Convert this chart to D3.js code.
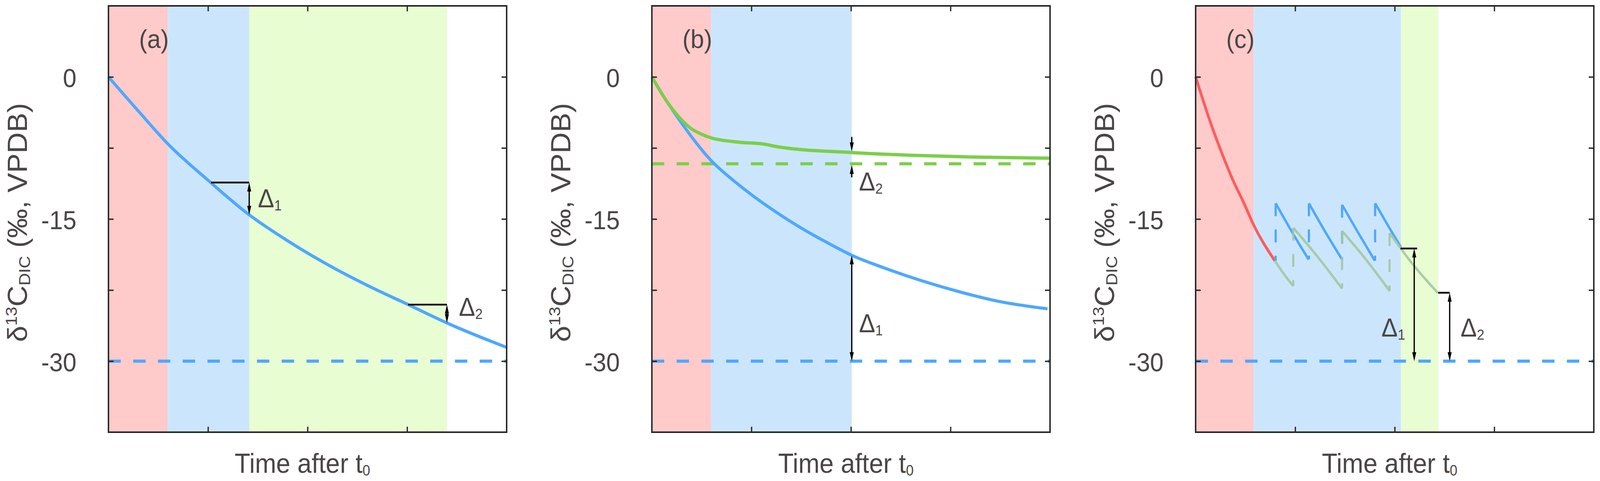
<!DOCTYPE html>
<html>
<head>
<meta charset="utf-8">
<script src="https://cdn.jsdelivr.net/npm/d3@7"></script>
<style>
  html, body { margin: 0; padding: 0; width: 100%; height: 100%; overflow: hidden; background: #fff; }
  #chart { width: 100%; height: 100%; }
  #chart svg { display: block; width: 100%; height: 100%; }
  text { font-family: "Liberation Sans", Arial, sans-serif; }
</style>
</head>
<body>
<div id="chart"></div>
<script>
// 坐标轴刻度
const xTickValues = [1, 2, 3];
const yTickValues = [-30, -22.5, -15, -7.5, 0];
const yTickLabels = [-30, -15, 0];
const panelLabels = ["(a)", "(b)", "(c)"];

// (a) 阶段边界与曲线
const aBandEdges = [0, 0.594, 1.414, 3.40];
const aCurve = [[0, 0], [0.3, -3.6], [0.6, -7.1], [1.0, -10.9], [1.414, -14.56], [1.8, -17.3],
    [2.2, -19.8], [2.6, -22.0], [3.01, -24.03], [3.40, -25.97], [4.0, -28.55]];
const aBaseline = -30;
// [水平线起点x, 箭头x, 上端y, 下端y]
const aSteps = [[1.03, 1.414, -11.15, -14.56], [3.01, 3.40, -24.03, -25.97]];

// (b)
const bBandEdges = [0, 0.594, 2.008];
const bBlue = [[0, 0], [0.155, -2.66], [0.31, -5.05], [0.594, -8.81], [0.826, -10.99], [1.032, -12.68],
    [1.29, -14.56], [1.548, -16.25], [1.806, -17.74], [2.008, -18.83], [2.323, -20.12], [2.71, -21.51],
    [3.097, -22.70], [3.484, -23.69], [3.974, -24.48]];
const bGreen = [[0, 0], [0.155, -2.66], [0.27, -4.2], [0.387, -5.4], [0.5, -6.05], [0.594, -6.43],
    [0.877, -6.89], [1.11, -7.07], [1.29, -7.42], [2.008, -7.98], [2.58, -8.26], [3.226, -8.46], [4.0, -8.58]];
const bBlueBaseline = -30;
const bGreenBaseline = -9.17;
const bArrowX = 2.008;
const bDelta2Tails = [-6.33, -10.6];

// (c)
const cBandEdges = [0, 0.581, 2.063, 2.437];
const cRed = [[0, 0], [0.172, -5.5], [0.241, -7.44], [0.379, -11.0], [0.486, -13.34], [0.578, -15.52], [0.796, -19.41]];
const cBlueTeeth = [
    [[0.804, -13.34], [0.97, -16.4], [1.135, -19.27]],
    [[1.138, -13.34], [1.305, -16.4], [1.471, -19.27]],
    [[1.471, -13.5], [1.636, -16.5], [1.80, -19.4]],
    [[1.803, -13.34], [1.933, -15.7], [2.063, -17.98]]
];
const cBlueJumps = [[0.804, -13.34, -19.41], [1.138, -13.34, -19.27], [1.471, -13.5, -19.27], [1.803, -13.34, -19.4]];
const cGreenTeeth = [
    [[0.796, -19.41], [0.89, -20.85], [0.981, -22.07]],
    [[0.981, -15.93], [1.227, -19.0], [1.471, -22.34]],
    [[1.471, -16.27], [1.713, -19.3], [1.95, -22.61]],
    [[1.948, -16.48], [2.191, -19.9], [2.435, -22.82]]
];
const cGreenJumps = [[0.981, -15.93, -22.07], [1.471, -16.27, -22.34], [1.948, -16.48, -22.61]];
const cBaseline = -30;
// [水平线起点x, 水平线终点x, 箭头x, 上端y]
const cSteps = [[2.058, 2.225, 2.196, -18.11], [2.437, 2.552, 2.552, -22.78]];

const Figure = {
    svg: null,
    width: 4396,
    height: 1232,
    panelLeft: [298, 1791, 3285],
    plotW: 1094,
    plotTop: 15,
    plotH: 1092,
    textColor: "#4a4646",
    axisColor: "#262626",
    bandColors: ["#ffcaca", "#cbe6fc", "#e8fdd2"],
    blue: "#4ea8ff",
    green: "#7bcf4a",
    red: "#ff5c5c",
    paleGreen: "#a3c8a0",

    init() {
        d3.select("#chart").selectAll("*").remove();
        // 用 viewBox 保证整幅图铺满窗口
        this.svg = d3.select("#chart").append("svg")
            .attr("viewBox", `0 0 ${this.width} ${this.height}`)
            .attr("preserveAspectRatio", "none");
        this.svg.append("rect").attr("width", this.width).attr("height", this.height).attr("fill", "#fff");

        this.drawPanelA(this.makePanel(0));
        this.drawPanelB(this.makePanel(1));
        this.drawPanelC(this.makePanel(2));
    },

    makePanel(i) {
        const left = this.panelLeft[i];
        const x = d3.scaleLinear().domain([0, 4]).range([left, left + this.plotW]);
        const y = d3.scaleLinear().domain([-37.5, 7.5]).range([this.plotTop + this.plotH, this.plotTop]);
        const g = this.svg.append("g").attr("class", `panel panel-${i}`);
        return { i, left, x, y, g };
    },

    // 背景色带
    drawBands(p, edges) {
        p.g.selectAll("rect.band")
            .data(d3.pairs(edges))
            .enter()
            .append("rect")
            .attr("class", "band")
            .attr("x", d => p.x(d[0]))
            .attr("y", this.plotTop)
            .attr("width", d => p.x(d[1]) - p.x(d[0]))
            .attr("height", this.plotH)
            .attr("fill", (d, k) => this.bandColors[k]);
    },

    drawCurve(p, points, color, width, opacity) {
        const line = d3.line()
            .x(d => p.x(d[0]))
            .y(d => p.y(d[1]))
            .curve(d3.curveMonotoneX);
        p.g.append("path")
            .datum(points)
            .attr("d", line)
            .attr("fill", "none")
            .attr("stroke", color)
            .attr("stroke-width", width)
            .attr("stroke-opacity", opacity || 1)
            .attr("stroke-linecap", "butt");
    },

    drawHDash(p, value, color) {
        p.g.append("line")
            .attr("x1", p.x(0)).attr("x2", p.x(4))
            .attr("y1", p.y(value)).attr("y2", p.y(value))
            .attr("stroke", color)
            .attr("stroke-width", 8)
            .attr("stroke-dasharray", "34,34");
    },

    drawVDash(p, jump, color, opacity) {
        p.g.append("line")
            .attr("x1", p.x(jump[0])).attr("x2", p.x(jump[0]))
            .attr("y1", p.y(jump[1])).attr("y2", p.y(jump[2]))
            .attr("stroke", color)
            .attr("stroke-width", 6)
            .attr("stroke-opacity", opacity || 1)
            .attr("stroke-dasharray", "33,34");
    },

    // 箭头：dir=1 向下，dir=-1 向上
    arrowHead(g, xTip, yTip, dir) {
        g.append("path")
            .attr("d", `M${xTip},${yTip} L${xTip - 5.5},${yTip - dir * 23} L${xTip + 5.5},${yTip - dir * 23} Z`)
            .attr("fill", "#000");
    },

    drawArrow(p, xv, yFromPx, yToPx, doubleHead) {
        const xp = p.x(xv);
        const dir = yToPx > yFromPx ? 1 : -1;
        const y0 = doubleHead ? yFromPx + dir * 18 : yFromPx;
        p.g.append("line")
            .attr("x1", xp).attr("x2", xp)
            .attr("y1", y0).attr("y2", yToPx - dir * 18)
            .attr("stroke", "#000")
            .attr("stroke-width", 3.5);
        this.arrowHead(p.g, xp, yToPx, dir);
        if (doubleHead) this.arrowHead(p.g, xp, yFromPx, -dir);
    },

    drawHLine(p, x0, x1, value) {
        p.g.append("line")
            .attr("x1", p.x(x0)).attr("x2", p.x(x1))
            .attr("y1", p.y(value)).attr("y2", p.y(value))
            .attr("stroke", "#000")
            .attr("stroke-width", 4.5);
    },

    deltaLabel(p, xPx, yPx, sub) {
        const t = p.g.append("text")
            .attr("x", xPx)
            .attr("y", yPx)
            .attr("font-size", 67)
            .attr("fill", this.textColor)
            .text("Δ");
        t.append("tspan")
            .attr("font-size", 37)
            .attr("dy", 8)
            .text(sub);
    },

    // 坐标框、刻度和文字
    drawAxes(p) {
        const tickStyle = sel => {
            sel.select("path.domain").remove();
            sel.selectAll(".tick line").attr("stroke", this.axisColor).attr("stroke-width", 3.5);
            sel.selectAll(".tick text")
                .attr("fill", this.textColor)
                .attr("font-size", 67)
                .attr("font-family", '"Liberation Sans", Arial, sans-serif')
                .attr("dy", "0.38em");
        };
        const bottom = this.plotTop + this.plotH;

        p.g.append("g")
            .attr("transform", `translate(${p.left},0)`)
            .call(d3.axisLeft(p.y).tickValues(yTickValues).tickSize(-14).tickPadding(88)
                .tickFormat(d => yTickLabels.includes(d) ? String(d) : ""))
            .call(tickStyle);
        p.g.append("g")
            .attr("transform", `translate(${p.left + this.plotW},0)`)
            .call(d3.axisRight(p.y).tickValues(yTickValues).tickSize(-14).tickFormat(""))
            .call(tickStyle);
        p.g.append("g")
            .attr("transform", `translate(0,${bottom})`)
            .call(d3.axisBottom(p.x).tickValues(xTickValues).tickSize(-14).tickFormat(""))
            .call(tickStyle);
        p.g.append("g")
            .attr("transform", `translate(0,${this.plotTop})`)
            .call(d3.axisTop(p.x).tickValues(xTickValues).tickSize(-14).tickFormat(""))
            .call(tickStyle);

        p.g.append("rect")
            .attr("x", p.left)
            .attr("y", this.plotTop)
            .attr("width", this.plotW)
            .attr("height", this.plotH)
            .attr("fill", "none")
            .attr("stroke", this.axisColor)
            .attr("stroke-width", 4);

        // 面板编号
        p.g.append("text")
            .attr("x", p.left + 84)
            .attr("y", 123)
            .attr("font-size", 67)
            .attr("fill", this.textColor)
            .text(panelLabels[p.i]);

        // x轴标题
        const xt = p.g.append("text")
            .attr("x", p.left + this.plotW / 2 - 14)
            .attr("y", 1211)
            .attr("text-anchor", "middle")
            .attr("font-size", 70)
            .attr("fill", this.textColor)
            .text("Time after t");
        xt.append("tspan").attr("font-size", 38).attr("dy", 7).text("0");

        // y轴标题
        const yt = p.g.append("text")
            .attr("transform", `translate(${p.left - 224},${this.plotTop + this.plotH / 2 + 9}) rotate(-90)`)
            .attr("text-anchor", "middle")
            .attr("font-size", 75)
            .attr("fill", this.textColor)
            .text("δ");
        yt.append("tspan").attr("font-size", 44).attr("dy", -28).text("13");
        yt.append("tspan").attr("font-size", 75).attr("dy", 28).text("C");
        yt.append("tspan").attr("font-size", 44).attr("dy", 9).text("DIC");
        yt.append("tspan").attr("font-size", 75).attr("dy", -9).text(" (‰, VPDB)");
    },

    drawPanelA(p) {
        this.drawBands(p, aBandEdges);
        this.drawCurve(p, aCurve, this.blue, 8);
        this.drawHDash(p, aBaseline, this.blue);
        aSteps.forEach(s => {
            this.drawHLine(p, s[0], s[1], s[2]);
            this.drawArrow(p, s[1], p.y(s[2]), p.y(s[3]), true);
        });
        this.deltaLabel(p, p.x(aSteps[0][1]) + 24, 531, "1");
        this.deltaLabel(p, p.x(aSteps[1][1]) + 33, 809, "2");
        this.drawAxes(p);
    },

    drawPanelB(p) {
        this.drawBands(p, bBandEdges);
        this.drawHDash(p, bGreenBaseline, this.green);
        this.drawHDash(p, bBlueBaseline, this.blue);
        this.drawCurve(p, bBlue, this.blue, 8);
        this.drawCurve(p, bGreen, this.green, 8.5);
        // Δ2：两支小箭头
        const gAt = bGreen.find(d => d[0] === bArrowX)[1];
        this.drawArrow(p, bArrowX, p.y(bDelta2Tails[0]), p.y(gAt) - 3, false);
        this.drawArrow(p, bArrowX, p.y(bDelta2Tails[1]), p.y(bGreenBaseline) + 3, false);
        // Δ1：双向箭头
        const bAt = bBlue.find(d => d[0] === bArrowX)[1];
        this.drawArrow(p, bArrowX, p.y(bAt), p.y(bBlueBaseline), true);
        this.deltaLabel(p, p.x(bArrowX) + 20, 488, "2");
        this.deltaLabel(p, p.x(bArrowX) + 20, 851, "1");
        this.drawAxes(p);
    },

    drawPanelC(p) {
        this.drawBands(p, cBandEdges);
        this.drawCurve(p, cRed, this.red, 7.5);
        cBlueTeeth.forEach(t => this.drawCurve(p, t, this.blue, 6.5));
        cBlueJumps.forEach(j => this.drawVDash(p, j, this.blue));
        cGreenTeeth.forEach(t => this.drawCurve(p, t, this.paleGreen, 6.5, 0.9));
        cGreenJumps.forEach(j => this.drawVDash(p, j, this.paleGreen, 0.9));
        this.drawHDash(p, cBaseline, this.blue);
        cSteps.forEach(s => {
            this.drawHLine(p, s[0], s[1], s[3]);
            this.drawArrow(p, s[2], p.y(s[3]), p.y(cBaseline), true);
        });
        this.deltaLabel(p, p.x(cSteps[0][2]) - 90, 862, "1");
        this.deltaLabel(p, p.x(cSteps[1][2]) + 30, 862, "2");
        this.drawAxes(p);
    }
};

Figure.init();
</script>
</body>
</html>
